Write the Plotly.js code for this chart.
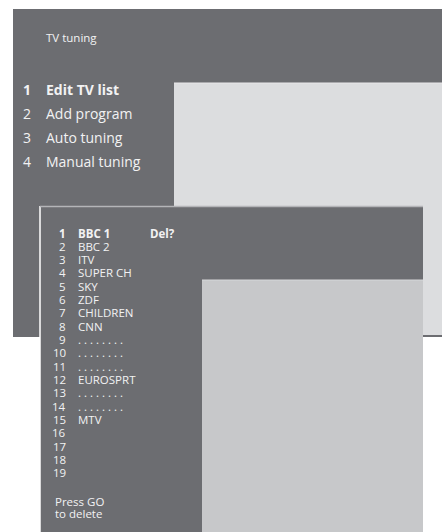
<!DOCTYPE html>
<html><head><meta charset="utf-8">
<script src="https://cdn.plot.ly/plotly-3.0.1.min.js"></script>
<style>html,body{margin:0;padding:0;background:#fff;}#chart{width:442px;height:532px;}</style>
</head><body><div id="chart"></div>
<script>
const menuTitle = "TV tuning";
const menuNumbers = ["1", "2", "3", "4"];
const menuItems = ["Edit TV list", "Add program", "Auto tuning", "Manual tuning"];
const channelNumbers = ["1","2","3","4","5","6","7","8","9","10","11","12","13","14","15","16","17","18","19"];
const channelNames = ["BBC 1","BBC 2","ITV","SUPER CH","SKY","ZDF","CHILDREN","CNN",
  ". . . . . . . .",". . . . . . . .",". . . . . . . .","EUROSPRT",". . . . . . . .",". . . . . . . .","MTV","","","",""];
const promptText = "Del?";
const footerLines = ["Press GO", "to delete"];

const DARK = "#6c6d71", LIGHT1 = "#dcdddf", LIGHT2 = "#c7c8ca", TXT = "#f2f2f3";
const FONT = "Open Sans, Noto Sans, sans-serif";

const shapes = [
  {type:"rect", x0:13, x1:442, y0:9, y1:337, fillcolor:DARK, line:{width:0}},
  {type:"rect", x0:174, x1:442, y0:83, y1:335, fillcolor:LIGHT1, line:{width:0}},
  {type:"line", x0:174, x1:442, y0:83, y1:83, line:{color:"#e8e8ea", width:1}},
  {type:"rect", x0:40, x1:423, y0:206, y1:540, fillcolor:DARK, line:{width:0}},
  {type:"line", x0:40, x1:40, y0:206, y1:540, line:{color:"#ffffff", width:1.5}},
  {type:"line", x0:40, x1:423, y0:206.5, y1:206.5, line:{color:"#b4b5b8", width:1.5}},
  {type:"rect", x0:202, x1:423, y0:280, y1:540, fillcolor:LIGHT2, line:{width:0}},
  {type:"line", x0:202, x1:423, y0:280, y1:280, line:{color:"#d6d7d9", width:1}}
];

const ann = [];
function t(x, y, text, size, opts) {
  ann.push(Object.assign({x:x, y:y, xref:"x", yref:"y", text:text, showarrow:false,
    xanchor:"left", yanchor:"middle", font:{family:FONT, size:size, color:TXT}}, opts||{}));
}
t(44, 37, menuTitle, 11.5);
menuItems.forEach((m, i) => {
  const y = 89 + i * 24.3;
  const bold = i === 0;
  t(32.5, y, bold ? "<b>" + menuNumbers[i] + "</b>" : menuNumbers[i], 14, {xanchor:"right"});
  t(43.5, y, bold ? "<b>" + m + "</b>" : m, 14);
});
channelNumbers.forEach((n, i) => {
  const y = 233 + i * 13.33;
  const bold = i === 0;
  t(67.5, y, bold ? "<b>" + n + "</b>" : n, 11.5, {xanchor:"right"});
  if (channelNames[i]) t(75.5, y, bold ? "<b>" + channelNames[i] + "</b>" : channelNames[i], 11.5);
});
t(147.5, 233, "<b>" + promptText + "</b>", 11.5);
footerLines.forEach((l, i) => t(52.5, 501 + i * 12.7, l, 11.5));

Plotly.newPlot("chart", [], {
  width:442, height:532, margin:{l:0,r:0,t:0,b:0},
  paper_bgcolor:"#ffffff", plot_bgcolor:"#ffffff",
  xaxis:{range:[0,442], visible:false, fixedrange:true},
  yaxis:{range:[532,0], visible:false, fixedrange:true},
  shapes:shapes, annotations:ann, showlegend:false
}, {displayModeBar:false, staticPlot:true});
</script></body></html>
